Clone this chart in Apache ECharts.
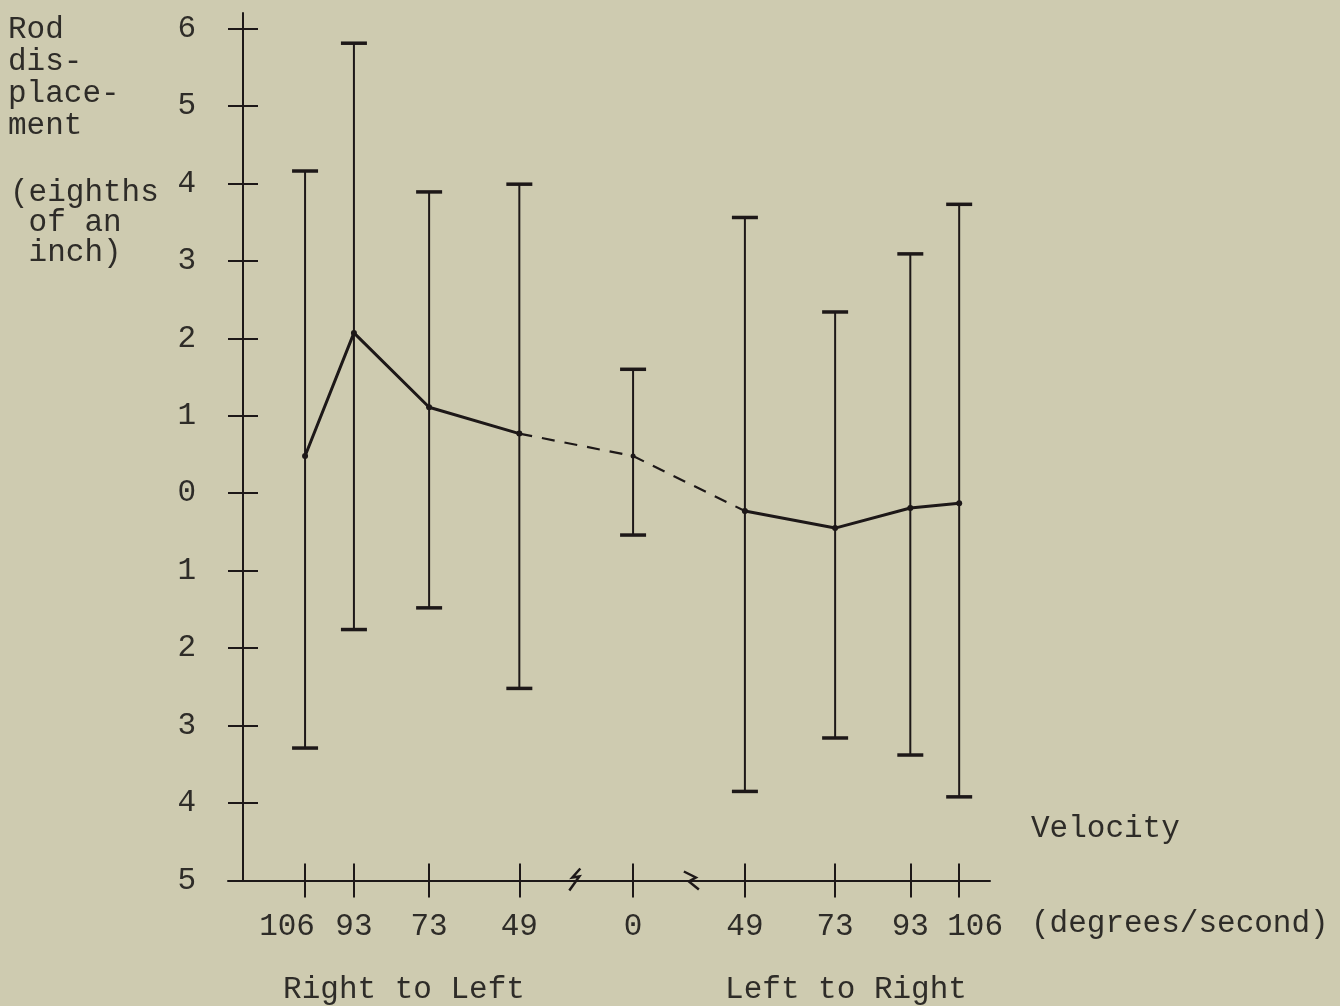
<!DOCTYPE html>
<html>
<head>
<meta charset="utf-8">
<script src="https://cdn.jsdelivr.net/npm/echarts@6/dist/echarts.min.js"></script>
<style>
html,body{margin:0;padding:0;background:#cecbb0;}
#chart{width:1340px;height:1006px;}
</style>
</head>
<body>
<div id="chart"></div>
<script>
// ---- data ----
const tickLabels = ['106', '93', '73', '49', '0', '49', '73', '93', '106'];
const velocity = [-106, -93, -73, -49, 0, 49, 73, 93, 106];
const meanDisp = [0.48, 2.07, 1.11, 0.77, 0.48, -0.23, -0.45, -0.19, -0.13];
const highDisp = [4.16, 5.81, 3.89, 3.99, 1.60, 3.56, 2.34, 3.09, 3.73];
const lowDisp = [-3.29, -1.76, -1.48, -2.52, -0.54, -3.85, -3.16, -3.38, -3.92];
const yTicks = [6, 5, 4, 3, 2, 1, 0, -1, -2, -3, -4, -5];
const axisBreaks = [
  { start: -44, end: -6, gap: '9.5%' },
  { start: 6, end: 44, gap: '9.25%' }
];

// ---- style ----
const ink = '#1d1818';
const txt = '#2e2c28';
const font = '"Liberation Mono", "DejaVu Sans Mono", monospace';
const fs = 31;

const yMin = yTicks[yTicks.length - 1];
const pts = velocity.map((v, i) => [v, meanDisp[i]]);
const bars = velocity.map((v, i) => [v, lowDisp[i], highDisp[i]]);
const breakMarks = axisBreaks.map(b => [(b.start + b.end) / 2, yMin, b.start, b.end]);

const chart = echarts.init(document.getElementById('chart'), null, { renderer: 'canvas' });

function xLabel(v) {
  const i = velocity.indexOf(v);
  const s = i >= 0 ? tickLabels[i] : String(Math.abs(v));
  if (i === 0) return '{l|' + s + '}';
  if (i === velocity.length - 1) return '{r|' + s + '}';
  return '{n|' + s + '}';
}
const labelBase = { fontFamily: font, fontSize: fs, color: txt };

const xCommon = {
  type: 'value', min: -126.5, max: 114.2,
  breaks: axisBreaks,
  breakArea: { show: false },
  splitLine: { show: false }
};
const yCommon = {
  type: 'value', min: -5, max: 6.2, offset: -15,
  splitLine: { show: false }
};

const option = {
  backgroundColor: '#cecbb0',
  animation: false,
  grid: { left: 228, right: 350, top: 13, bottom: 125.5, containLabel: false, outerBoundsMode: 'none' },
  xAxis: [
    Object.assign({}, xCommon, {
      position: 'bottom',
      axisLine: { show: true, onZero: false, lineStyle: { color: ink, width: 2 } },
      axisTick: { show: true, customValues: velocity, length: 17, lineStyle: { color: ink, width: 2 } },
      axisLabel: {
        customValues: velocity, margin: 31, formatter: xLabel,
        fontFamily: font, fontSize: fs, color: txt,
        rich: {
          n: labelBase,
          l: Object.assign({ padding: [0, 36, 0, 0] }, labelBase),
          r: Object.assign({ padding: [0, 0, 0, 32] }, labelBase)
        }
      }
    }),
    Object.assign({}, xCommon, {
      position: 'bottom',
      axisLine: { show: false, onZero: false },
      axisTick: { show: true, inside: true, customValues: velocity, length: 17, lineStyle: { color: ink, width: 2 } },
      axisLabel: { show: false }
    })
  ],
  yAxis: [
    Object.assign({}, yCommon, {
      position: 'left',
      axisLine: { show: true, onZero: false, lineStyle: { color: ink, width: 2 } },
      axisTick: { show: true, customValues: yTicks, length: 15, lineStyle: { color: ink, width: 2 } },
      axisLabel: {
        customValues: yTicks, margin: 47,
        formatter: v => String(Math.abs(v)),
        fontFamily: font, fontSize: fs, color: txt
      }
    }),
    Object.assign({}, yCommon, {
      position: 'left',
      axisLine: { show: false, onZero: false },
      axisTick: { show: true, inside: true, customValues: yTicks, length: 15, lineStyle: { color: ink, width: 2 } },
      axisLabel: { show: false }
    })
  ],
  graphic: [
    { type: 'text', left: 8, top: 14, style: { text: 'Rod\ndis-\nplace-\nment', font: fs + 'px ' + font, lineHeight: 32, fill: txt } },
    { type: 'text', left: 10, top: 177, style: { text: '(eighths\n of an\n inch)', font: fs + 'px ' + font, lineHeight: 30, fill: txt } },
    { type: 'text', left: 1031, top: 813, style: { text: 'Velocity', font: fs + 'px ' + font, fill: txt } },
    { type: 'text', left: 1031, top: 908, style: { text: '(degrees/second)', font: fs + 'px ' + font, fill: txt } },
    { type: 'text', x: 404, y: 974, style: { text: 'Right to Left', font: fs + 'px ' + font, fill: txt, textAlign: 'center', textVerticalAlign: 'top' } },
    { type: 'text', x: 846, y: 974, style: { text: 'Left to Right', font: fs + 'px ' + font, fill: txt, textAlign: 'center', textVerticalAlign: 'top' } }
  ],
  series: [
    {
      type: 'custom', name: 'range', xAxisIndex: 0, yAxisIndex: 0,
      data: bars, encode: { x: 0, y: [1, 2] }, z: 2,
      renderItem: function (params, api) {
        const x = api.value(0);
        const lo = api.coord([x, api.value(1)]);
        const hi = api.coord([x, api.value(2)]);
        const w = 13;
        return {
          type: 'group',
          children: [
            { type: 'line', shape: { x1: lo[0], y1: lo[1], x2: hi[0], y2: hi[1] }, style: { stroke: ink, lineWidth: 2 } },
            { type: 'line', shape: { x1: lo[0] - w, y1: lo[1], x2: lo[0] + w, y2: lo[1] }, style: { stroke: ink, lineWidth: 3.5 } },
            { type: 'line', shape: { x1: hi[0] - w, y1: hi[1], x2: hi[0] + w, y2: hi[1] }, style: { stroke: ink, lineWidth: 3.5 } }
          ]
        };
      }
    },
    {
      type: 'line', name: 'mean R-L', data: pts.slice(0, 4), z: 3,
      symbol: 'circle', symbolSize: 6, itemStyle: { color: ink },
      lineStyle: { color: ink, width: 3 }
    },
    {
      type: 'line', name: 'mean link', data: pts.slice(3, 6), z: 3,
      symbol: 'circle', symbolSize: 5, itemStyle: { color: ink },
      lineStyle: { color: ink, width: 2.2, type: [13, 10] }
    },
    {
      type: 'line', name: 'mean L-R', data: pts.slice(5), z: 3,
      symbol: 'circle', symbolSize: 6, itemStyle: { color: ink },
      lineStyle: { color: ink, width: 3 }
    },
    {
      type: 'custom', name: 'breaks', data: breakMarks, encode: { x: 0, y: 1 }, z: 4,
      renderItem: function (params, api) {
        const y = api.value(1);
        const c = api.coord([api.value(0), y]);
        const a = api.coord([api.value(2), y]);
        const b = api.coord([api.value(3), y]);
        const ly = Math.round(a[1]);
        const shapes = [
          [[6, -12], [-2, -3], [5, -4], [-5, 10]],
          [[-7, -9], [5, -3], [-2, 1], [8, 9]]
        ];
        const s = shapes[params.dataIndex % 2];
        return {
          type: 'group',
          children: [
            { type: 'line', shape: { x1: a[0] - 1, y1: ly, x2: b[0] + 1, y2: ly }, style: { stroke: ink, lineWidth: 2 } },
            {
              type: 'polyline',
              shape: { points: s.map(p => [c[0] + p[0], c[1] + p[1]]) },
              style: { stroke: ink, lineWidth: 2.5, fill: null, lineJoin: 'miter' }
            }
          ]
        };
      }
    }
  ]
};
chart.setOption(option);
</script>
</body>
</html>
